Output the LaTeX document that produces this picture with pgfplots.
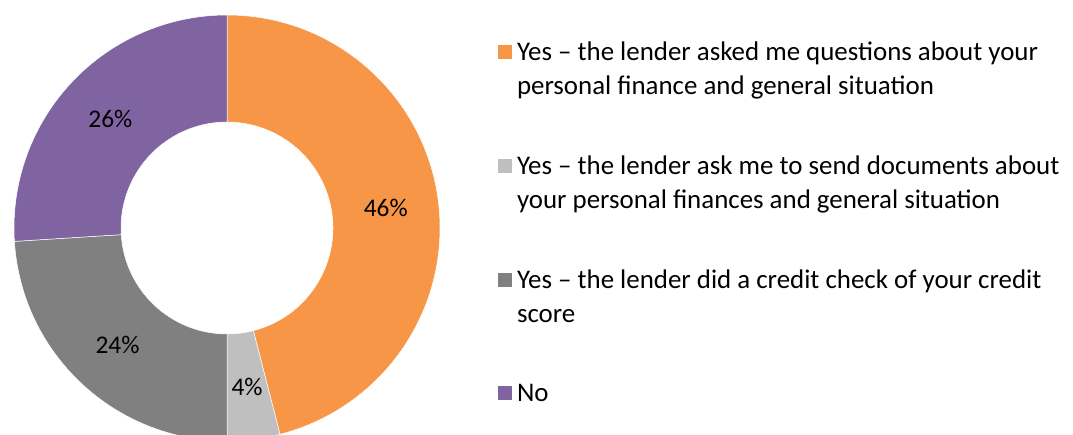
\documentclass[border=0pt]{standalone}
\usepackage{pgfplots}
\pgfplotsset{compat=1.18}
\usepackage{pgfplotstable}
\usetikzlibrary{calc}
\usepackage{fontspec}
\setmainfont{Carlito}
\definecolor{cOrange}{HTML}{F79646}
\definecolor{cLight}{HTML}{BFBFBF}
\definecolor{cDark}{HTML}{808080}
\definecolor{cPurple}{HTML}{8064A2}
\pgfplotstableread{
value color
46 cOrange
4 cLight
24 cDark
26 cPurple
}\donutdata
\newcommand{\entry}[1]{\parbox[t]{560bp}{\strut #1\strut}}
\begin{document}
\begin{tikzpicture}
\begin{axis}[
  x={(1bp,0)}, y={(0,1bp)},
  xmin=0, xmax=1073, ymin=0, ymax=435,
  hide axis, clip=false,
  legend image code/.code={\fill[#1, draw=none] (0bp,1.5bp) rectangle (14bp,15.5bp);},
  legend cell align=left,
  legend style={draw=none, fill=none, inner sep=0pt, outer sep=0pt,
    at={(axis cs:498,398)}, anchor=north west,
    font=\fontsize{27}{34}\selectfont,
    row sep=46bp, column sep=5bp,
    cells={anchor=base west},
    nodes={inner sep=0pt, outer sep=0pt, text depth=}},
]
\addlegendimage{fill=cOrange}
\addlegendentry{\entry{Yes – the lender asked me questions about your\\personal finance and general situation}}
\addlegendimage{fill=cLight}
\addlegendentry{\entry{Yes – the lender ask me to send documents about\\your personal finances and general situation}}
\addlegendimage{fill=cDark}
\addlegendentry{\entry{Yes – the lender did a credit check of your credit\\score}}
\addlegendimage{fill=cPurple}
\addlegendentry{\entry{No}}
\pgfplotsextra{%
  \gdef\cumval{0}%
  \foreach \i in {0,...,3}{%
    \pgfplotstablegetelem{\i}{value}\of\donutdata \let\segval\pgfplotsretval
    \pgfplotstablegetelem{\i}{color}\of\donutdata \let\segcol\pgfplotsretval
    \pgfmathsetmacro\sa{90-3.6*\cumval}%
    \pgfmathsetmacro\sb{90-3.6*(\cumval+\segval)}%
    \pgfmathsetmacro\sm{(\sa+\sb)/2}%
    \filldraw[fill=\segcol, draw=white, line width=0.5bp] ($(axis cs:227,207)+(\sa:213bp)$) arc[start angle=\sa, end angle=\sb, radius=213bp]
      -- ($(axis cs:227,207)+(\sb:106bp)$) arc[start angle=\sb, end angle=\sa, radius=106bp] -- cycle;
    \node[font=\fontsize{25.5}{30}\selectfont, inner sep=0pt] at ($(axis cs:227,207)+(\sm:160bp)$) {\segval\%};
    \pgfmathsetmacro\sn{\cumval+\segval}%
    \xdef\cumval{\sn}%
  }%
}
\end{axis}
\pgfresetboundingbox
\path (0,0) rectangle (1073bp,435bp);
\end{tikzpicture}
\end{document}
